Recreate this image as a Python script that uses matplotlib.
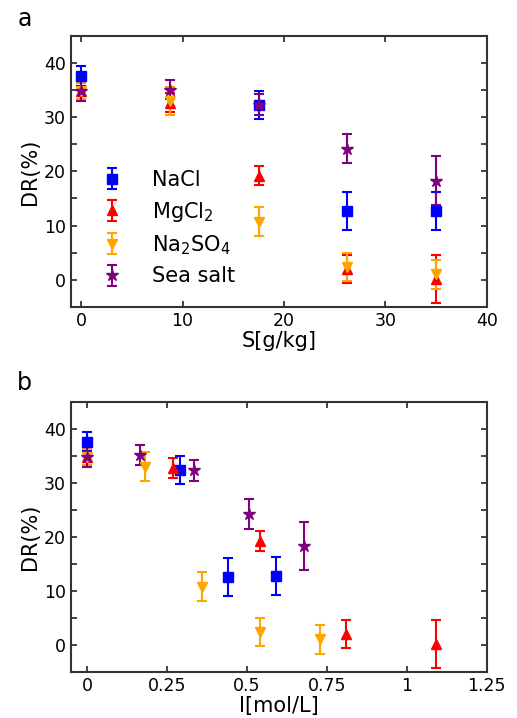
import matplotlib
matplotlib.use("Agg")
import matplotlib.pyplot as plt
from matplotlib.ticker import MultipleLocator, FixedLocator

# ---- data ----
labels = ["NaCl", "MgCl$_2$", "Na$_2$SO$_4$", "Sea salt"]

nacl_S = [0, 17.5, 26.25, 35]
nacl_I = [0, 0.29, 0.44, 0.59]
nacl_DR = [37.6, 32.3, 12.6, 12.7]
nacl_err = [1.8, 2.6, 3.5, 3.5]

mgcl2_S = [0, 8.75, 17.5, 26.25, 35]
mgcl2_I = [0, 0.27, 0.54, 0.81, 1.09]
mgcl2_DR = [34.8, 32.7, 19.2, 2.0, 0.1]
mgcl2_err = [1.6, 1.8, 1.8, 2.6, 4.4]

na2so4_S = [0, 8.75, 17.5, 26.25, 35]
na2so4_I = [0, 0.18, 0.36, 0.54, 0.73]
na2so4_DR = [34.8, 33.0, 10.7, 2.3, 1.0]
na2so4_err = [1.5, 2.6, 2.7, 2.6, 2.7]

sea_S = [0, 8.75, 17.5, 26.25, 35]
sea_I = [0, 0.166, 0.336, 0.506, 0.68]
sea_DR = [34.8, 35.1, 32.3, 24.2, 18.3]
sea_err = [1.8, 1.8, 1.9, 2.7, 4.5]

colors = ["#0000ff", "#ff0000", "#ffa500", "#800080"]
markers = ["s", "^", "v", "*"]
msizes = [7, 7, 7, 9]

plt.rcParams['font.family'] = ['DejaVu Sans']

fig = plt.figure(figsize=(5.17, 7.18), dpi=100)
ax1 = fig.add_axes([0.1373, 0.5728, 0.8041, 0.3771])
ax2 = fig.add_axes([0.1373, 0.0645, 0.8041, 0.3760])

series_S = [(nacl_S, nacl_DR, nacl_err), (mgcl2_S, mgcl2_DR, mgcl2_err),
            (na2so4_S, na2so4_DR, na2so4_err), (sea_S, sea_DR, sea_err)]
series_I = [(nacl_I, nacl_DR, nacl_err), (mgcl2_I, mgcl2_DR, mgcl2_err),
            (na2so4_I, na2so4_DR, na2so4_err), (sea_I, sea_DR, sea_err)]

def style(ax):
    for sp in ax.spines.values():
        sp.set_linewidth(1.5)
        sp.set_color("#333333")
    ax.tick_params(which='both', direction='in', top=True, right=True,
                   labelsize=12.5, color="#222222", width=1.2)
    ax.tick_params(which='major', length=4)
    ax.tick_params(which='minor', length=4)
    ax.set_ylim(-5, 45)
    ax.yaxis.set_major_locator(MultipleLocator(10))
    ax.yaxis.set_minor_locator(MultipleLocator(5))
    ax.set_ylabel("DR(%)", fontsize=15, labelpad=3)

for ax, series in ((ax1, series_S), (ax2, series_I)):
    for (x, y, e), c, m, ms, lab in zip(series, colors, markers, msizes, labels):
        ax.errorbar(x, y, yerr=e, fmt=m, color=c, ecolor=c, markersize=ms,
                    elinewidth=1.5, capsize=3.5, capthick=1.5, label=lab,
                    linestyle='none')
    style(ax)

ax1.set_xlim(-1, 40)
ax1.xaxis.set_major_locator(MultipleLocator(10))
ax1.set_xlabel("S[g/kg]", fontsize=15, labelpad=1)

ax2.set_xlim(-0.05, 1.25)
ax2.xaxis.set_major_locator(FixedLocator([0, 0.25, 0.5, 0.75, 1, 1.25]))
ax2.set_xticklabels(["0", "0.25", "0.5", "0.75", "1", "1.25"])
ax2.set_xlabel("I[mol/L]", fontsize=15, labelpad=1)

ax1.legend(loc='center left', bbox_to_anchor=(0.004, 0.29), frameon=False,
           fontsize=15, handlelength=2, handletextpad=0.9, labelspacing=0.46,
           borderpad=0.4)

fig.text(18/517, 1 - 26/718, "a", fontsize=17)
fig.text(17/517, 1 - 390/718, "b", fontsize=17)

fig.savefig("out.png", dpi=100)
